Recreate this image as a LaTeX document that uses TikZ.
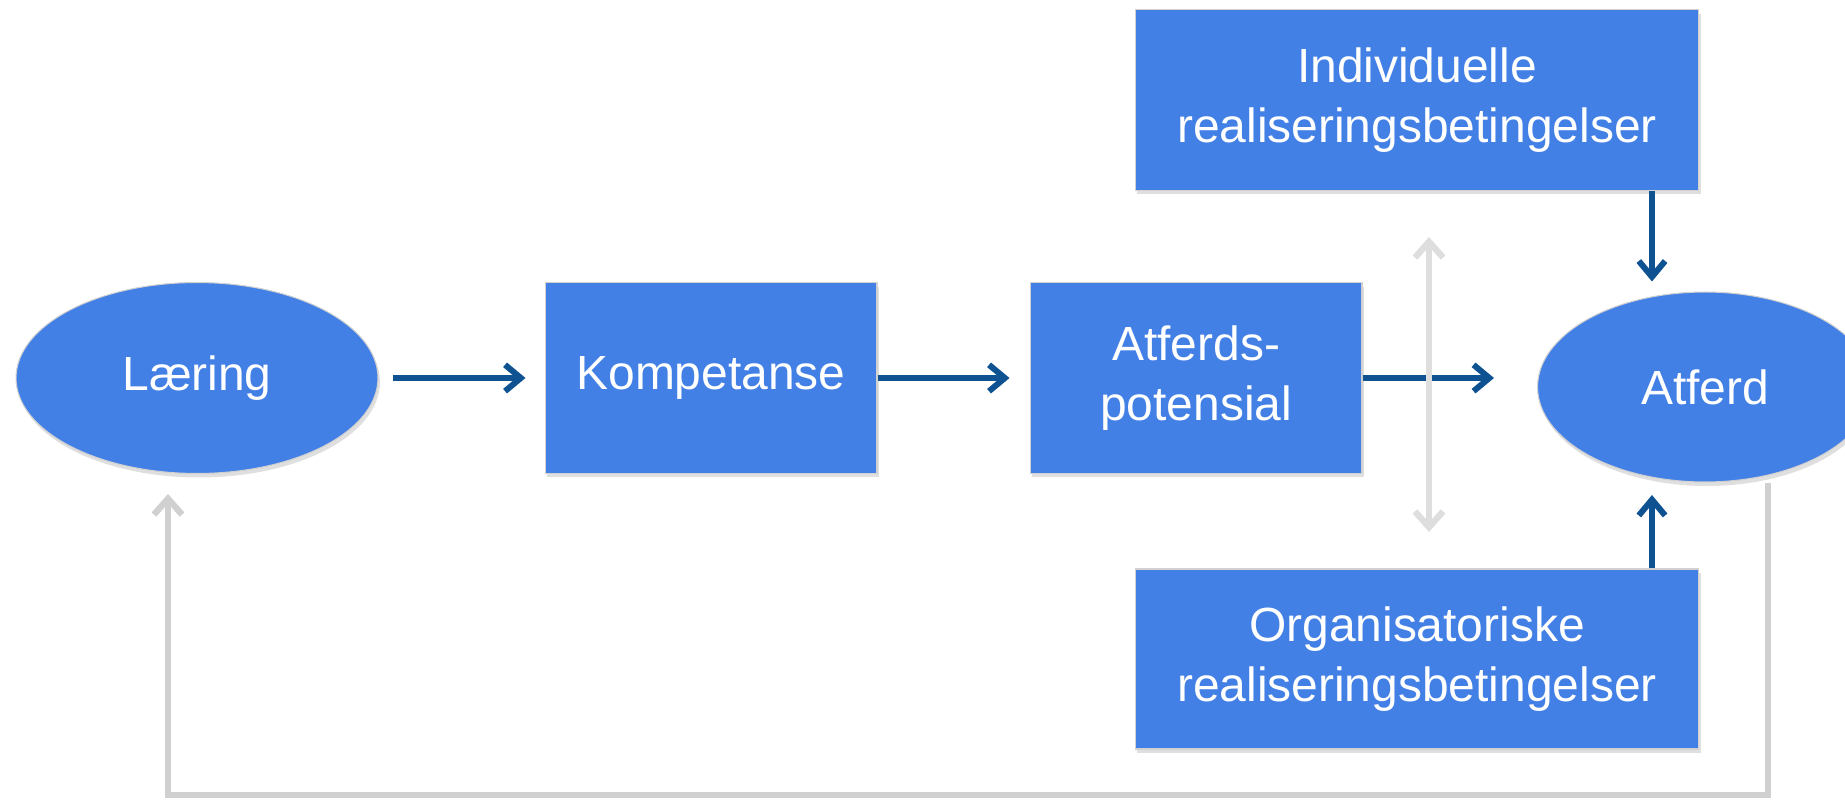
\documentclass[tikz,border=0pt]{standalone}
\usepackage{fontspec}
\setmainfont{Liberation Sans}
\usetikzlibrary{shapes.geometric,arrows.meta,shadows}
\definecolor{boxblue}{RGB}{66,128,230}
\definecolor{linkblue}{RGB}{14,82,145}
\definecolor{backgray}{RGB}{208,208,208}
\definecolor{crossgray}{RGB}{222,222,222}
\begin{document}
\begin{tikzpicture}[x=0.02cm,y=-0.02cm,
        block/.style={rectangle,fill=boxblue,draw=black!18,line width=0.6pt,text=white,
            font=\fontsize{27.3}{34}\selectfont,align=center,inner sep=0pt,
            drop shadow={opacity=0.25,shadow xshift=0.04cm,shadow yshift=-0.08cm}},
        oval/.style={block,ellipse},
        link/.style={draw=linkblue,line width=3.4pt,-{Straight Barb[length=9pt,width=15pt]}},
        grayline/.style={line width=3.6pt,{Straight Barb[length=9pt,width=16pt]}-{Straight Barb[length=9pt,width=16pt]}}]
    \useasboundingbox (0,0) rectangle (1845,801);

    % main row
    \node[oval,minimum width=7.24cm,minimum height=3.82cm] (laering) at (197,378) {Læring};
    \node[block,minimum width=6.64cm,minimum height=3.82cm] (kompetanse) at (711,378) {Kompetanse};
    \node[block,minimum width=6.64cm,minimum height=3.82cm] (potensial) at (1196,378) {Atferds-\\potensial};
    \node[oval,minimum width=6.7cm,minimum height=3.8cm] (atferd) at (1705,387) {Atferd};
    % conditions
    \node[block,minimum width=11.28cm,minimum height=3.62cm] (individuelle) at (1417,100) {Individuelle\\realiseringsbetingelser};
    \node[block,minimum width=11.28cm,minimum height=3.6cm] (organisatoriske) at (1417,659) {Organisatoriske\\realiseringsbetingelser};

    \coordinate (crosstop) at (1429,237);
    \coordinate (crossbot) at (1429,532);
    \coordinate (backstart) at (1768,483);

    \draw[link,shorten <=0.3cm,shorten >=0.38cm] (laering) -- (kompetanse);
    \draw[link,shorten >=0.4cm] (kompetanse) -- (potensial);
    \draw[link,shorten >=0.86cm] (potensial.east) -- (potensial.east -| atferd.west);
    \draw[link,shorten >=0.2cm] ([xshift=4.7cm]individuelle.south) -- ([xshift=4.7cm]individuelle.south |- atferd.north);
    \draw[link,shorten >=0.25cm] ([xshift=4.7cm]organisatoriske.north) -- ([xshift=4.7cm]organisatoriske.north |- atferd.south);

    \draw[grayline,crossgray] (crossbot) -- (crosstop);
    %feedback
    \draw[backgray,line width=3.6pt,-{Straight Barb[length=9pt,width=16pt]},shorten >=0.4cm]
        (backstart) -- (1768,795) -| ([xshift=-0.58cm]laering.south);
\end{tikzpicture}
\end{document}
